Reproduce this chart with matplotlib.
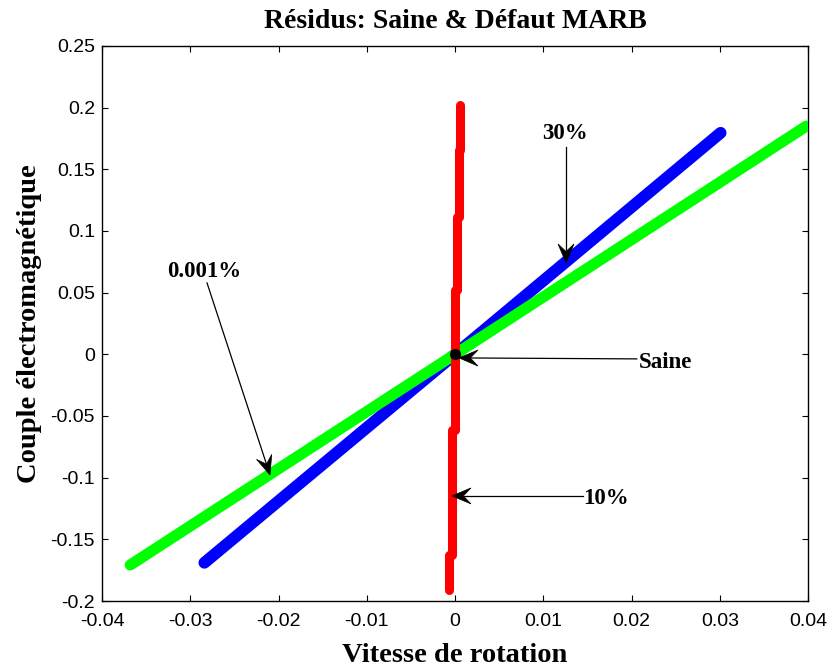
import numpy as np
import matplotlib
matplotlib.use("Agg")
import matplotlib.pyplot as plt
from matplotlib.patches import Polygon
from matplotlib.transforms import IdentityTransform

# Residual traces (vitesse, couple)
green_x = [-0.0368, 0.0, 0.0398]
green_y = [-0.1708, 0.0, 0.1850]

blue_x = [-0.0284, 0.0, 0.0301]
blue_y = [-0.1690, 0.0, 0.1796]

# Healthy-to-10% trace: nearly vertical runs, each pair is one run
red_x = [0.00057, 0.00057, 0.00045, 0.00045, 0.00023, 0.00023,
         0.0, 0.0, -0.00034, -0.00034, -0.00068, -0.00068]
red_y = [0.2023, 0.1658, 0.1658, 0.1114, 0.1114, 0.0522,
         0.0522, -0.0613, -0.0613, -0.1627, -0.1627, -0.1911]

saine_x = [0.0]
saine_y = [0.0]

xticks = [-0.04, -0.03, -0.02, -0.01, 0.0, 0.01, 0.02, 0.03, 0.04]
xticklabels = ["-0.04", "-0.03", "-0.02", "-0.01", "0", "0.01", "0.02", "0.03", "0.04"]
yticks = [-0.2, -0.15, -0.1, -0.05, 0.0, 0.05, 0.1, 0.15, 0.2, 0.25]
yticklabels = ["-0.2", "-0.15", "-0.1", "-0.05", "0", "0.05", "0.1", "0.15", "0.2", "0.25"]

# Annotations: label, text centre, arrow start, arrow tip
ann_labels = ["30%", "0.001%", "Saine", "10%"]
ann_text = [(0.01246, 0.1792), (-0.02844, 0.0668), (0.0239, -0.0070), (0.01705, -0.1169)]
ann_start = [(0.01258, 0.1682), (-0.0281, 0.0579), (0.0206, -0.0037), (0.0145, -0.1148)]
ann_tip = [(0.01258, 0.0741), (-0.02096, -0.0978), (0.00045, -0.0029), (-0.00034, -0.1148)]

serif = ["Liberation Serif", "DejaVu Serif"]
sans = ["Liberation Sans", "DejaVu Sans"]

fig = plt.figure(figsize=(8.32, 6.69), dpi=100)
ax = fig.add_axes([102 / 832, 1 - 601 / 669, 706 / 832, 555 / 669])

ax.plot(blue_x, blue_y, color="#0000ff", lw=8.5, solid_capstyle="round", zorder=2)
ax.plot(green_x, green_y, color="#00ff00", lw=8.0, solid_capstyle="round", zorder=3)
for i in range(0, len(red_x), 2):
    ax.plot(red_x[i:i + 2], red_y[i:i + 2], color="#ff0000", lw=6.5,
            solid_capstyle="round", zorder=4)
ax.plot(saine_x, saine_y, "o", color="black", ms=7, zorder=5)

ax.set_xlim(-0.04, 0.04)
ax.set_ylim(-0.2, 0.25)
ax.set_xticks(xticks)
ax.set_xticklabels(xticklabels, family=sans, fontsize=14)
ax.set_yticks(yticks)
ax.set_yticklabels(yticklabels, family=sans, fontsize=14)
ax.tick_params(axis="x", direction="in", top=True, length=4, width=0.8, pad=9)
ax.tick_params(axis="y", direction="in", right=True, length=4, width=0.8, pad=5)
for sp in ax.spines.values():
    sp.set_linewidth(1.0)


def notched_arrow(start, tip, head_len=19.0, half_w=8.0, notch=0.6):
    """Thin line with a notched (vback) arrowhead, built in pixel space."""
    p0 = ax.transData.transform(start)
    p1 = ax.transData.transform(tip)
    d = p1 - p0
    d = d / np.hypot(*d)
    n = np.array([-d[1], d[0]])
    back = p1 - d * head_len
    nb = p1 - d * head_len * notch
    ax.plot([p0[0], nb[0]], [p0[1], nb[1]], color="black", lw=0.9,
            transform=IdentityTransform(), zorder=6)
    head = Polygon([p1, back + n * half_w, nb, back - n * half_w], closed=True,
                   facecolor="black", edgecolor="black", lw=0.5,
                   transform=IdentityTransform(), zorder=7)
    ax.add_patch(head)


for lab, txt, st, tp in zip(ann_labels, ann_text, ann_start, ann_tip):
    ax.text(txt[0], txt[1], lab, ha="center", va="center", fontsize=16.5,
            fontweight="bold", family=serif, zorder=8)
    notched_arrow(st, tp)

ax.set_title("Résidus: Saine & Défaut MARB", fontsize=20, fontweight="bold",
             family=serif, pad=13)
ax.set_xlabel("Vitesse de rotation", fontsize=20.5, fontweight="bold", family=serif,
              labelpad=9)
ax.set_ylabel("Couple électromagnétique", fontsize=20.5, fontweight="bold", family=serif,
              labelpad=6)

fig.savefig("out.png", dpi=100)
